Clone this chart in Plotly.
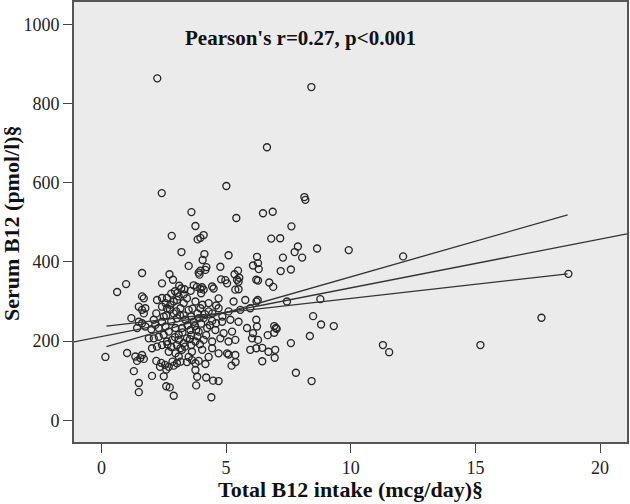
import plotly.graph_objects as go

# Scatter data: Total B12 intake (mcg/day) vs Serum B12 (pmol/l)
intake = [
    2.24, 8.42, 6.64, 2.42, 5.01, 8.14, 8.18, 3.61, 6.48, 6.87, 3.77, 5.41, 7.62, 2.82, 3.86, 3.97, 4.10,
    6.81, 7.17, 3.21, 4.13, 5.10, 6.24, 7.28, 7.75, 7.88, 8.05, 8.65, 9.92, 12.1, 18.73, 8.78, 8.49, 8.81,
    9.32, 8.36, 11.29, 11.54, 15.2, 17.65, 8.43, 6.31, 7.19, 7.60, 6.28, 6.73, 6.89, 6.27, 6.22, 7.44, 6.21,
    6.24, 6.93, 7.00, 7.03, 6.67, 6.93, 6.28, 6.21, 6.45, 6.70, 6.97, 6.95, 7.60, 6.45, 7.80, 6.08, 6.28,
    6.08, 6.21,
    0.16, 1.03, 0.63, 0.99, 1.20, 1.63, 1.30, 1.50, 1.50, 2.03, 2.50, 2.60, 2.74, 2.90, 3.80, 4.41, 4.70,
    4.48, 3.77, 3.84, 4.20, 5.10, 5.22, 5.38,
    2.73, 2.87, 2.43, 1.63, 1.70, 1.50, 1.63, 1.76, 2.43, 2.63, 2.95, 2.80, 3.05, 4.06, 3.50, 4.21, 3.97,
    3.90, 3.93, 4.17, 4.77, 5.34, 5.48, 5.53, 5.44, 5.50, 4.80, 4.97, 5.04, 4.44, 4.50, 5.37, 5.50,
    3.12, 3.20, 3.33, 3.70, 3.83, 3.97, 4.03, 4.10, 3.58, 4.00, 3.30,
    2.23, 2.43, 2.57, 2.63, 2.77, 2.90, 3.03, 1.50, 1.43, 1.63, 1.76, 2.10, 2.16, 2.30, 2.43, 2.57,
    3.10, 3.43, 3.77, 4.30, 4.70, 5.30, 5.77, 3.17, 3.50, 3.97, 4.30, 4.70, 5.10, 5.57, 5.97,
    3.03, 3.37, 3.70, 4.10, 4.44, 4.84, 5.17, 5.50, 5.84, 6.04,
    3.23, 3.57, 3.90, 4.24, 4.57, 4.90, 5.24, 3.10, 3.43, 3.77, 4.10, 4.44, 4.77, 5.10, 5.37,
    3.23, 3.63, 4.04, 4.44, 4.70, 5.04, 5.37, 5.97,
    1.90, 2.10, 2.30, 2.50, 2.70, 2.97, 3.10, 2.83, 2.63, 2.43, 2.23, 2.03, 3.03, 3.17,
    1.36, 1.63, 1.56, 2.70, 2.97, 3.10, 1.43, 1.70, 2.20, 2.40, 2.55, 2.70, 2.85, 2.35, 2.60, 2.90,
    3.03, 3.17, 3.43, 3.63, 3.77, 3.90, 4.17,
    3.30, 3.60, 3.85, 4.15, 3.45, 3.75, 4.00, 3.30, 3.60, 3.85, 3.60, 2.80, 2.90, 2.60, 4.45, 4.60,
    4.85, 3.30, 3.90, 4.20, 2.00, 1.70, 2.80, 3.50, 4.30, 2.20,
    2.65, 2.95, 3.25, 3.55, 3.95, 4.35, 2.75, 3.15, 3.65, 4.05, 3.35, 3.80, 2.50, 4.60, 3.00,
]
serum = [
    864, 842, 690, 574, 592, 564, 557, 526, 523, 527, 491, 511, 490, 466, 457, 461, 468,
    459, 460, 425, 420, 417, 413, 411, 425, 439, 411, 434, 430, 414, 370, 306, 263, 242,
    238, 213, 190, 172, 190, 259, 99, 382, 377, 381, 353, 348, 337, 304, 300, 300, 254,
    237, 238, 233, 231, 215, 221, 203, 182, 183, 173, 178, 158, 195, 149, 120, 220, 397,
    391, 355,
    160, 170, 324, 344, 258, 372, 124, 94, 71, 112, 111, 86, 83, 62, 88, 58, 99,
    100, 127, 110, 108, 166, 138, 147,
    369, 355, 346, 313, 308, 287, 279, 283, 309, 309, 326, 320, 322, 405, 390, 387, 378,
    373, 368, 380, 388, 369, 378, 360, 355, 350, 356, 354, 346, 338, 333, 330, 331,
    340, 333, 331, 341, 337, 332, 336, 330, 327, 321, 318,
    304, 287, 296, 283, 292, 300, 304, 249, 233, 245, 237, 254, 241, 233, 249, 237,
    313, 308, 300, 296, 308, 300, 304, 283, 279, 283, 275, 283, 275, 279, 283,
    258, 254, 249, 258, 251, 249, 254, 249, 233, 207,
    233, 228, 224, 233, 228, 220, 224, 203, 207, 199, 203, 199, 207, 199, 203,
    178, 173, 178, 182, 169, 169, 165, 178,
    207, 207, 211, 216, 224, 233, 216, 203, 199, 190, 186, 182, 190, 182,
    161, 165, 157, 173, 169, 161, 150, 155, 150, 145, 140, 135, 148, 135, 128, 138,
    144, 148, 147, 152, 144, 150, 142,
    265, 262, 270, 268, 240, 238, 244, 195, 190, 212, 215, 250, 270, 265, 270, 290,
    262, 296, 258, 215, 230, 270, 185, 160, 160, 270,
    192, 210, 222, 205, 192, 240, 280, 265, 282, 292, 186, 228, 262, 245, 275,
]

# Linear fit line (full range) and mean confidence-interval lines
fit_x = [-1.1, 21.08]
fit_y = [198, 471]
ci_x = [0.2, 18.7]
ci_upper_y = [238, 370]
ci_lower_y = [186, 519]

x_ticks = [0, 5, 10, 15, 20]
y_ticks = [0, 200, 400, 600, 800, 1000]

annotation_text = "Pearson's r=0.27, p<0.001"
x_title = "Total B12 intake (mcg/day)§"
y_title = "Serum B12 (pmol/l)§"

FONT = "Liberation Serif, Times New Roman, serif"
LINE_COLOR = "#333333"
TEXT_COLOR = "#111111"

fig = go.Figure()

fig.add_trace(go.Scatter(
    x=intake, y=serum, mode="markers",
    marker=dict(symbol="circle-open", size=7, color="#262626", line=dict(width=1.35, color="#262626")),
    showlegend=False, hoverinfo="x+y",
))
fig.add_trace(go.Scatter(x=fit_x, y=fit_y, mode="lines",
                         line=dict(color=LINE_COLOR, width=1.3), showlegend=False))
fig.add_trace(go.Scatter(x=ci_x, y=ci_upper_y, mode="lines",
                         line=dict(color=LINE_COLOR, width=1.3), showlegend=False))
fig.add_trace(go.Scatter(x=ci_x, y=ci_lower_y, mode="lines",
                         line=dict(color=LINE_COLOR, width=1.3), showlegend=False))

# Correlation label inside plot
fig.add_annotation(x=7.98, y=967, xref="x", yref="y", text="<b>" + annotation_text + "</b>",
                   showarrow=False, font=dict(family=FONT, size=21, color=TEXT_COLOR))

# Axis titles
fig.add_annotation(x=0.5, y=-0.109, xref="paper", yref="paper", text="<b>" + x_title + "</b>",
                   showarrow=False, xanchor="center", yanchor="middle",
                   font=dict(family=FONT, size=22, color=TEXT_COLOR))
fig.add_annotation(x=-0.112, y=0.498, xref="paper", yref="paper", text="<b>" + y_title + "</b>",
                   showarrow=False, xanchor="center", yanchor="middle", textangle=-90,
                   font=dict(family=FONT, size=22, color=TEXT_COLOR))

axis_common = dict(
    showgrid=False, zeroline=False, showline=True, mirror=True, automargin=False,
    linecolor="#555555", linewidth=1.6,
    ticks="outside", ticklen=9, tickwidth=1.3, tickcolor="#444444",
    tickfont=dict(family=FONT, size=18, color="#222222"),
)

fig.update_layout(
    template="none",
    width=630, height=504,
    margin=dict(l=74, r=3, t=2, b=62),
    paper_bgcolor="white", plot_bgcolor="#ebebeb",
    font=dict(family=FONT),
    showlegend=False,
    xaxis=dict(range=[-1.1, 21.08], tickvals=x_ticks, ticktext=[str(v) for v in x_ticks], **axis_common),
    yaxis=dict(range=[-55, 1057], tickvals=y_ticks, ticktext=[str(v) for v in y_ticks], **axis_common),
)

fig.write_html(
    "out.html",
    config={"displayModeBar": False},
    post_script="document.body.style.margin='0';document.body.style.padding='0';",
)
